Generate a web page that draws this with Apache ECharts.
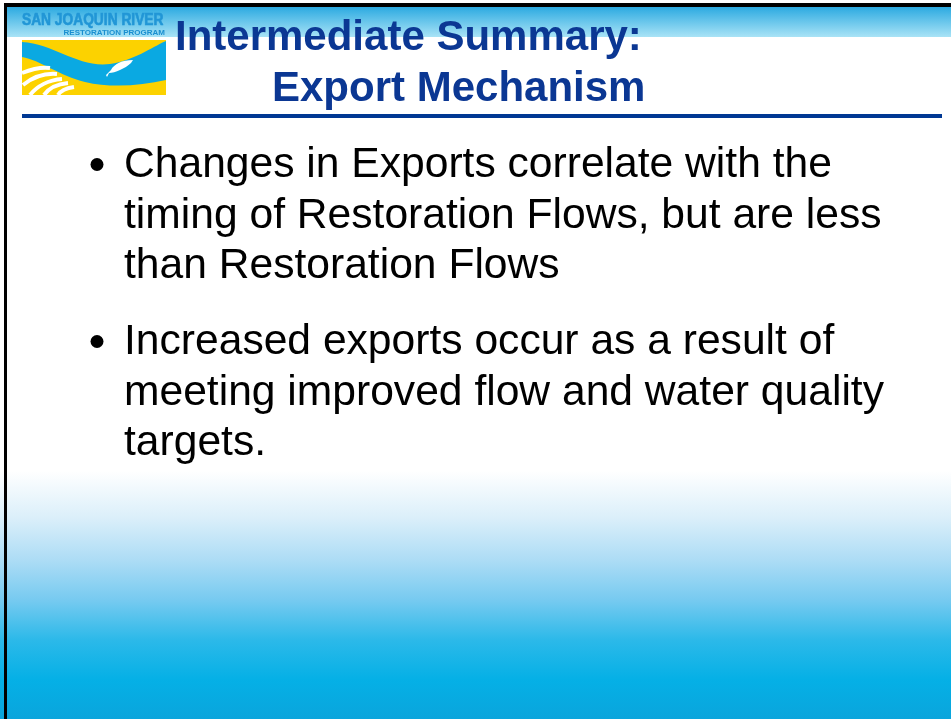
<!DOCTYPE html>
<html>
<head>
<meta charset="utf-8">
<script src="https://cdn.jsdelivr.net/npm/echarts@6/dist/echarts.min.js"></script>
<style>
  html, body { margin: 0; padding: 0; background: #fff; }
  #main { width: 951px; height: 719px; }
</style>
</head>
<body>
<div id="main"></div>
<script>
// slide texts
var titleLines = ['Intermediate Summary:', 'Export Mechanism'];
var bullets = [
  ['Changes in Exports correlate with the', 'timing of Restoration Flows, but are less', 'than Restoration Flows'],
  ['Increased exports occur as a result of', 'meeting improved flow and water quality', 'targets.']
];
var logoText = ['SAN JOAQUIN RIVER', 'RESTORATION PROGRAM'];

// logo shapes
echarts.graphic.registerShape('river', echarts.graphic.extendPath(
  'M22,42 C55,44 78,68 110,64 C135,60 150,48 166,41 L166,80 C140,86 110,88 85,82 C60,76 40,60 22,57 Z'
));
echarts.graphic.registerShape('fish', echarts.graphic.extendPath(
  'M106,75 L111,70 C114,64 122,60 133,60 L131,63 C128,66 124,68 120,70 C116,72 112,73 109,73 L107,77 Z'
));

var dom = document.getElementById('main');
var myChart = echarts.init(dom, null, { renderer: 'canvas' });

var elements = [];

// page background, white fading to blue water at the bottom
elements.push({
  type: 'rect', shape: { x: 0, y: 0, width: 951, height: 719 }, silent: true,
  style: {
    fill: new echarts.graphic.LinearGradient(0, 0, 0, 1, [
      { offset: 0, color: '#ffffff' },
      { offset: 0.655, color: '#ffffff' },
      { offset: 0.72, color: '#dbeffa' },
      { offset: 0.78, color: '#acdcf5' },
      { offset: 0.835, color: '#76caf0' },
      { offset: 0.89, color: '#2cb9e9' },
      { offset: 0.945, color: '#05b0e6' },
      { offset: 1, color: '#0aa5dc' }
    ])
  }
});

// header band
elements.push({
  type: 'rect', shape: { x: 7, y: 7, width: 944, height: 30 }, silent: true,
  style: {
    fill: new echarts.graphic.LinearGradient(0, 0, 0, 1, [
      { offset: 0, color: '#2caae1' },
      { offset: 1, color: '#a9e3f6' }
    ])
  }
});

// black frame top and left
elements.push({ type: 'rect', shape: { x: 4, y: 3, width: 947, height: 4 }, style: { fill: '#000' }, silent: true });
elements.push({ type: 'rect', shape: { x: 4, y: 3, width: 3, height: 716 }, style: { fill: '#000' }, silent: true });

// logo
elements.push({ type: 'rect', shape: { x: 22, y: 40, width: 144, height: 55 }, style: { fill: '#fcd200' }, silent: true });
elements.push({ type: 'river', silent: true, style: { fill: '#0aa9e2' } });
// field stripes
var stripes = [
  [22, 73, 32, 69, 42, 67, 50, 68],
  [23, 85, 33, 77, 45, 73, 57, 74],
  [30, 95, 37, 86, 49, 80, 62, 79],
  [44, 95, 49, 88, 57, 84, 68, 83],
  [58, 95, 61, 90, 67, 88, 74, 87]
];
stripes.forEach(function (s) {
  elements.push({
    type: 'bezierCurve', silent: true,
    shape: { x1: s[0], y1: s[1], cpx1: s[2], cpy1: s[3], cpx2: s[4], cpy2: s[5], x2: s[6], y2: s[7] },
    style: { fill: null, stroke: '#ffffff', lineWidth: 4 }
  });
});
elements.push({ type: 'fish', silent: true, style: { fill: '#ffffff' } });
elements.push({
  type: 'text', silent: true, scaleX: 0.86, x: 22, y: 29,
  style: { text: logoText[0], x: 0, y: 0, font: 'bold 16px "Liberation Sans", Arial, sans-serif', fill: '#2196d6', verticalAlign: 'bottom', stroke: '#2196d6', lineWidth: 0.6 }
});
elements.push({
  type: 'text', silent: true,
  style: { text: logoText[1], x: 165, y: 37, align: 'right', font: 'bold 8px "Liberation Sans", Arial, sans-serif', fill: '#1a8fd0', verticalAlign: 'bottom' }
});

// title
var titleX = [175, 272];
var titleY = [38.5, 89.5];
titleLines.forEach(function (t, i) {
  elements.push({
    type: 'text', silent: true,
    style: { text: t, x: titleX[i], y: titleY[i], font: 'bold 42px "Liberation Sans", Arial, sans-serif', fill: '#0b3793', verticalAlign: 'middle' }
  });
});
// rule under title
elements.push({ type: 'rect', shape: { x: 22, y: 114, width: 920, height: 4 }, style: { fill: '#003893' }, silent: true });

// bullets
var bulletTop = [165.5, 342.5];
var lineStep = 50.5;
bullets.forEach(function (lines, b) {
  elements.push({ type: 'circle', silent: true, shape: { cx: 97, cy: bulletTop[b] - 1, r: 6.5 }, style: { fill: '#000' } });
  lines.forEach(function (t, i) {
    elements.push({
      type: 'text', silent: true,
      style: { text: t, x: 124, y: bulletTop[b] + i * lineStep, font: '42.6px "Liberation Sans", Arial, sans-serif', fill: '#000', verticalAlign: 'middle' }
    });
  });
});

var option = {
  backgroundColor: '#ffffff',
  animation: false,
  graphic: { elements: elements }
};

option && myChart.setOption(option);
</script>
</body>
</html>
